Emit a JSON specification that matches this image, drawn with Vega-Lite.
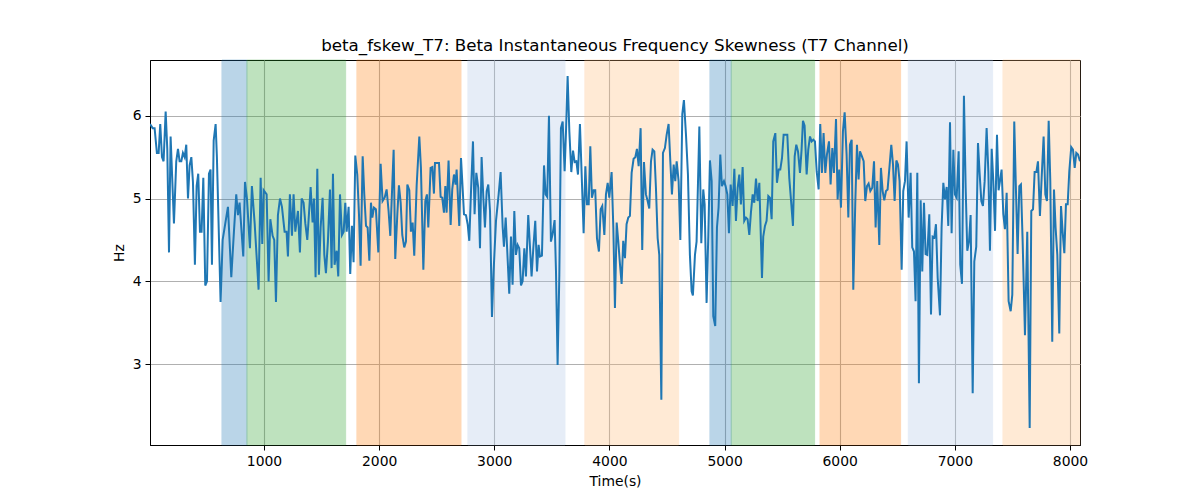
{
  "$schema": "https://vega.github.io/schema/vega-lite/v6.json",
  "width": 930,
  "height": 385,
  "autosize": {"type": "none"},
  "padding": {"left": 150, "top": 60, "right": 120, "bottom": 55},
  "background": "white",
  "config": {
    "font": "DejaVu Sans",
    "view": {"stroke": "black", "strokeWidth": 1},
    "axis": {
      "labelFont": "DejaVu Sans",
      "titleFont": "DejaVu Sans",
      "labelFontSize": 13.9,
      "titleFontSize": 13.9,
      "titleFontWeight": "normal",
      "labelColor": "black",
      "titleColor": "black",
      "tickColor": "black",
      "domainColor": "black",
      "tickSize": 5,
      "labelPadding": 4,
      "grid": true,
      "gridColor": "#b0b0b0",
      "gridWidth": 1.1
    }
  },
  "title": {
    "text": "beta_fskew_T7: Beta Instantaneous Frequency Skewness (T7 Channel)",
    "fontSize": 16.7,
    "fontWeight": "normal",
    "font": "DejaVu Sans",
    "color": "black",
    "frame": "group",
    "anchor": "middle",
    "offset": 5
  },
  "datasets": {
    "spans": [
      {"start": 635, "end": 852, "state": "A"},
      {"start": 852, "end": 1709, "state": "B"},
      {"start": 1807, "end": 2711, "state": "C"},
      {"start": 2771, "end": 3614, "state": "D"},
      {"start": 3787, "end": 4601, "state": "E"},
      {"start": 4873, "end": 5058, "state": "A"},
      {"start": 5058, "end": 5782, "state": "B"},
      {"start": 5829, "end": 6529, "state": "C"},
      {"start": 6596, "end": 7328, "state": "D"},
      {"start": 7418, "end": 8087, "state": "E"}
    ],
    "series": [
      {"t":10,"v":5.9},{"t":33,"v":5.85},{"t":50,"v":5.85},{"t":70,"v":5.55},{"t":85,"v":5.55},{"t":99,"v":5.9},{"t":114,"v":5.5},{"t":128,"v":5.45},{"t":146,"v":6.05},{"t":160,"v":5.6},{"t":175,"v":4.35},{"t":189,"v":5.75},{"t":218,"v":4.7},{"t":238,"v":5.45},{"t":253,"v":5.6},{"t":267,"v":5.45},{"t":282,"v":5.45},{"t":296,"v":5.55},{"t":311,"v":5.5},{"t":325,"v":5.65},{"t":340,"v":5.0},{"t":354,"v":5.4},{"t":369,"v":5.5},{"t":383,"v":5.2},{"t":400,"v":4.2},{"t":415,"v":5.15},{"t":429,"v":5.3},{"t":444,"v":4.6},{"t":458,"v":4.6},{"t":473,"v":5.25},{"t":490,"v":3.95},{"t":505,"v":4.0},{"t":522,"v":5.3},{"t":536,"v":5.35},{"t":548,"v":4.2},{"t":563,"v":5.7},{"t":580,"v":5.9},{"t":591,"v":5.5},{"t":623,"v":3.75},{"t":641,"v":4.5},{"t":664,"v":4.7},{"t":687,"v":4.9},{"t":716,"v":4.05},{"t":739,"v":4.6},{"t":759,"v":5.05},{"t":774,"v":4.8},{"t":788,"v":4.95},{"t":820,"v":4.3},{"t":835,"v":5.2},{"t":852,"v":5.0},{"t":878,"v":4.4},{"t":895,"v":5.15},{"t":919,"v":4.7},{"t":953,"v":3.9},{"t":971,"v":5.25},{"t":985,"v":4.45},{"t":997,"v":5.1},{"t":1023,"v":5.05},{"t":1040,"v":4.0},{"t":1055,"v":4.75},{"t":1075,"v":4.55},{"t":1089,"v":4.5},{"t":1104,"v":3.75},{"t":1121,"v":4.8},{"t":1139,"v":5.0},{"t":1156,"v":4.9},{"t":1179,"v":4.6},{"t":1196,"v":4.6},{"t":1208,"v":4.3},{"t":1225,"v":5.05},{"t":1243,"v":4.55},{"t":1257,"v":5.05},{"t":1272,"v":4.6},{"t":1295,"v":4.85},{"t":1312,"v":4.35},{"t":1327,"v":5.0},{"t":1344,"v":4.95},{"t":1359,"v":4.7},{"t":1376,"v":4.5},
      {"t":1385,"v":4.69},{"t":1405,"v":5.14},{"t":1422,"v":4.71},{"t":1434,"v":5.0},{"t":1448,"v":4.05},{"t":1463,"v":5.36},{"t":1477,"v":4.08},{"t":1492,"v":4.65},{"t":1509,"v":5.01},{"t":1524,"v":4.32},{"t":1538,"v":4.1},{"t":1555,"v":4.48},{"t":1573,"v":5.11},{"t":1587,"v":4.16},{"t":1599,"v":5.3},{"t":1613,"v":4.2},{"t":1631,"v":4.37},{"t":1645,"v":4.06},{"t":1660,"v":5.05},{"t":1677,"v":4.56},{"t":1692,"v":4.6},{"t":1706,"v":4.95},{"t":1718,"v":4.6},{"t":1735,"v":4.9},{"t":1749,"v":4.09},{"t":1764,"v":4.67},{"t":1778,"v":4.23},{"t":1793,"v":5.52},{"t":1810,"v":5.29},{"t":1825,"v":4.81},{"t":1839,"v":4.19},{"t":1857,"v":5.51},{"t":1871,"v":5.05},{"t":1886,"v":4.67},{"t":1900,"v":4.65},{"t":1915,"v":4.25},{"t":1929,"v":4.95},{"t":1941,"v":4.77},{"t":1955,"v":4.89},{"t":1972,"v":4.87},{"t":1993,"v":4.35},{"t":2013,"v":5.42},{"t":2030,"v":4.97},{"t":2048,"v":5.01},{"t":2065,"v":5.11},{"t":2082,"v":4.85},{"t":2097,"v":4.55},{"t":2111,"v":5.05},{"t":2126,"v":5.59},{"t":2140,"v":4.27},{"t":2158,"v":4.81},{"t":2172,"v":5.16},{"t":2187,"v":4.95},{"t":2201,"v":4.56},{"t":2218,"v":4.41},{"t":2233,"v":4.48},{"t":2245,"v":5.17},{"t":2262,"v":5.1},{"t":2276,"v":4.6},{"t":2291,"v":4.71},{"t":2305,"v":4.31},{"t":2326,"v":5.16},{"t":2349,"v":5.75},{"t":2363,"v":5.37},{"t":2384,"v":4.14},{"t":2401,"v":4.97},{"t":2415,"v":5.05},{"t":2427,"v":4.65},{"t":2447,"v":5.37},{"t":2462,"v":5.38},{"t":2476,"v":5.06},{"t":2485,"v":5.43},{"t":2505,"v":5.43},{"t":2520,"v":5.43},{"t":2534,"v":5.02},{"t":2548,"v":5.01},{"t":2563,"v":4.83},{"t":2575,"v":5.15},{"t":2586,"v":4.83},{"t":2603,"v":5.46},{"t":2621,"v":4.68},{"t":2635,"v":5.11},{"t":2650,"v":5.29},{"t":2664,"v":5.17},{"t":2673,"v":5.35},{"t":2696,"v":4.67},
      {"t":2711,"v":5.49},{"t":2725,"v":5.13},{"t":2737,"v":4.81},{"t":2754,"v":4.8},{"t":2769,"v":4.69},{"t":2783,"v":4.49},{"t":2797,"v":5.05},{"t":2815,"v":5.69},{"t":2829,"v":4.81},{"t":2844,"v":5.31},{"t":2861,"v":5.13},{"t":2876,"v":4.4},{"t":2890,"v":5.5},{"t":2905,"v":5.01},{"t":2919,"v":4.65},{"t":2934,"v":5.09},{"t":2948,"v":5.17},{"t":2963,"v":4.85},{"t":2980,"v":3.57},{"t":2994,"v":4.12},{"t":3015,"v":4.73},{"t":3038,"v":5.05},{"t":3055,"v":5.32},{"t":3073,"v":4.65},{"t":3084,"v":4.42},{"t":3099,"v":4.77},{"t":3113,"v":4.36},{"t":3130,"v":3.85},{"t":3145,"v":4.54},{"t":3159,"v":3.96},{"t":3174,"v":4.85},{"t":3188,"v":4.32},{"t":3203,"v":4.44},{"t":3217,"v":4.4},{"t":3232,"v":3.95},{"t":3246,"v":4.0},{"t":3261,"v":4.4},{"t":3275,"v":4.06},{"t":3295,"v":4.8},{"t":3310,"v":4.42},{"t":3324,"v":4.06},{"t":3339,"v":4.4},{"t":3356,"v":4.73},{"t":3371,"v":4.12},{"t":3385,"v":4.44},{"t":3397,"v":4.3},{"t":3414,"v":4.31},{"t":3432,"v":5.4},{"t":3446,"v":5.05},{"t":3460,"v":5.02},{"t":3475,"v":6.0},{"t":3492,"v":4.48},{"t":3507,"v":4.57},{"t":3524,"v":4.74},{"t":3536,"v":4.12},{"t":3550,"v":2.99},{"t":3565,"v":4.08},{"t":3579,"v":5.85},{"t":3594,"v":5.93},{"t":3611,"v":5.33},{"t":3623,"v":5.81},{"t":3637,"v":6.48},{"t":3652,"v":5.81},{"t":3669,"v":5.32},{"t":3684,"v":5.58},{"t":3698,"v":5.44},{"t":3713,"v":5.45},{"t":3727,"v":5.29},{"t":3744,"v":5.9},{"t":3762,"v":5.17},{"t":3776,"v":4.58},{"t":3791,"v":5.39},{"t":3805,"v":4.93},{"t":3820,"v":4.93},{"t":3834,"v":5.63},{"t":3848,"v":5.01},{"t":3863,"v":5.1},{"t":3877,"v":5.1},{"t":3892,"v":4.52},{"t":3909,"v":4.36},{"t":3924,"v":4.87},{"t":3938,"v":4.91},{"t":3956,"v":4.56},{"t":3970,"v":5.05},{"t":3985,"v":5.19},{"t":3999,"v":5.01},
      {"t":4019,"v":5.32},{"t":4034,"v":4.65},{"t":4048,"v":3.68},{"t":4063,"v":4.71},{"t":4077,"v":4.48},{"t":4092,"v":4.2},{"t":4106,"v":3.97},{"t":4120,"v":4.49},{"t":4135,"v":4.28},{"t":4149,"v":4.69},{"t":4164,"v":4.77},{"t":4178,"v":4.79},{"t":4193,"v":5.31},{"t":4210,"v":5.48},{"t":4225,"v":5.5},{"t":4239,"v":5.6},{"t":4254,"v":5.39},{"t":4271,"v":5.85},{"t":4285,"v":4.38},{"t":4300,"v":5.44},{"t":4317,"v":5.05},{"t":4332,"v":4.97},{"t":4346,"v":4.88},{"t":4361,"v":5.45},{"t":4375,"v":5.59},{"t":4390,"v":5.57},{"t":4404,"v":5.13},{"t":4419,"v":4.52},{"t":4433,"v":4.32},{"t":4451,"v":2.57},{"t":4465,"v":5.55},{"t":4482,"v":5.61},{"t":4497,"v":5.77},{"t":4514,"v":5.9},{"t":4529,"v":5.45},{"t":4543,"v":5.05},{"t":4558,"v":5.41},{"t":4572,"v":5.21},{"t":4584,"v":5.45},{"t":4601,"v":5.21},{"t":4616,"v":4.5},{"t":4633,"v":6.02},{"t":4647,"v":6.19},{"t":4665,"v":5.77},{"t":4682,"v":5.29},{"t":4699,"v":4.32},{"t":4714,"v":3.88},{"t":4725,"v":3.83},{"t":4743,"v":4.32},{"t":4757,"v":4.48},{"t":4781,"v":5.87},{"t":4798,"v":4.46},{"t":4815,"v":5.11},{"t":4827,"v":4.93},{"t":4844,"v":3.74},{"t":4859,"v":4.56},{"t":4873,"v":5.46},{"t":4888,"v":5.21},{"t":4902,"v":3.58},{"t":4919,"v":3.46},{"t":4934,"v":4.65},{"t":4948,"v":4.89},{"t":4963,"v":5.53},{"t":4977,"v":5.15},{"t":4995,"v":5.21},{"t":5009,"v":5.15},{"t":5024,"v":5.05},{"t":5038,"v":4.58},{"t":5053,"v":5.17},{"t":5070,"v":4.91},{"t":5085,"v":5.36},{"t":5099,"v":4.73},{"t":5114,"v":5.13},{"t":5128,"v":5.29},{"t":5142,"v":4.93},{"t":5157,"v":5.38},{"t":5171,"v":4.73},{"t":5186,"v":4.77},{"t":5200,"v":4.75},{"t":5215,"v":4.56},{"t":5229,"v":4.83},{"t":5244,"v":5.05},{"t":5258,"v":4.95},{"t":5273,"v":5.24},{"t":5287,"v":4.97},{"t":5302,"v":5.19},
      {"t":5325,"v":4.04},{"t":5336,"v":4.54},{"t":5351,"v":4.67},{"t":5365,"v":4.73},{"t":5380,"v":5.03},{"t":5394,"v":5.01},{"t":5409,"v":4.75},{"t":5423,"v":5.69},{"t":5441,"v":5.79},{"t":5455,"v":5.19},{"t":5470,"v":5.35},{"t":5484,"v":5.35},{"t":5499,"v":5.49},{"t":5513,"v":5.77},{"t":5530,"v":5.77},{"t":5545,"v":5.77},{"t":5562,"v":5.25},{"t":5580,"v":4.93},{"t":5594,"v":4.67},{"t":5609,"v":5.51},{"t":5623,"v":5.65},{"t":5638,"v":5.57},{"t":5655,"v":5.31},{"t":5669,"v":5.59},{"t":5681,"v":5.94},{"t":5695,"v":5.88},{"t":5713,"v":5.29},{"t":5727,"v":5.59},{"t":5742,"v":5.75},{"t":5756,"v":5.69},{"t":5771,"v":5.71},{"t":5785,"v":5.69},{"t":5800,"v":5.33},{"t":5817,"v":5.11},{"t":5831,"v":5.9},{"t":5846,"v":5.31},{"t":5860,"v":5.79},{"t":5875,"v":5.31},{"t":5889,"v":5.53},{"t":5907,"v":5.69},{"t":5921,"v":5.17},{"t":5936,"v":5.61},{"t":5950,"v":5.31},{"t":5968,"v":5.96},{"t":5982,"v":4.99},{"t":5996,"v":5.35},{"t":6011,"v":4.89},{"t":6028,"v":5.81},{"t":6043,"v":6.04},{"t":6060,"v":5.53},{"t":6075,"v":4.77},{"t":6089,"v":5.65},{"t":6104,"v":5.71},{"t":6118,"v":3.9},{"t":6135,"v":4.93},{"t":6150,"v":5.65},{"t":6164,"v":5.23},{"t":6176,"v":5.57},{"t":6193,"v":5.51},{"t":6208,"v":5.45},{"t":6222,"v":4.97},{"t":6237,"v":5.15},{"t":6251,"v":5.18},{"t":6266,"v":5.09},{"t":6283,"v":5.13},{"t":6298,"v":5.45},{"t":6312,"v":4.65},{"t":6326,"v":5.21},{"t":6344,"v":4.44},{"t":6358,"v":5.37},{"t":6373,"v":5.09},{"t":6387,"v":4.98},{"t":6402,"v":5.09},{"t":6416,"v":5.11},{"t":6434,"v":5.41},{"t":6448,"v":5.65},{"t":6463,"v":5.41},{"t":6477,"v":4.97},{"t":6492,"v":5.46},{"t":6506,"v":5.41},{"t":6520,"v":5.21},{"t":6538,"v":4.14},{"t":6552,"v":5.09},{"t":6567,"v":5.21},{"t":6581,"v":5.69},{"t":6599,"v":4.77},
      {"t":6616,"v":5.31},{"t":6630,"v":4.41},{"t":6645,"v":4.36},{"t":6659,"v":3.76},{"t":6674,"v":5.31},{"t":6688,"v":2.77},{"t":6703,"v":4.98},{"t":6717,"v":4.12},{"t":6732,"v":4.95},{"t":6746,"v":4.33},{"t":6761,"v":4.32},{"t":6778,"v":4.81},{"t":6793,"v":3.6},{"t":6807,"v":4.54},{"t":6822,"v":4.53},{"t":6836,"v":4.69},{"t":6851,"v":4.04},{"t":6871,"v":3.59},{"t":6885,"v":4.65},{"t":6900,"v":5.19},{"t":6914,"v":4.99},{"t":6929,"v":5.14},{"t":6943,"v":4.67},{"t":6958,"v":5.92},{"t":6972,"v":4.58},{"t":6987,"v":5.59},{"t":7001,"v":5.05},{"t":7016,"v":5.01},{"t":7033,"v":5.57},{"t":7047,"v":4.2},{"t":7062,"v":3.97},{"t":7079,"v":6.24},{"t":7094,"v":5.13},{"t":7108,"v":4.37},{"t":7123,"v":4.48},{"t":7137,"v":4.8},{"t":7155,"v":2.65},{"t":7169,"v":4.24},{"t":7186,"v":4.42},{"t":7201,"v":5.67},{"t":7215,"v":5.31},{"t":7230,"v":4.97},{"t":7244,"v":4.91},{"t":7259,"v":5.21},{"t":7276,"v":5.85},{"t":7291,"v":5.33},{"t":7305,"v":4.37},{"t":7320,"v":5.6},{"t":7334,"v":5.21},{"t":7349,"v":4.61},{"t":7366,"v":5.77},{"t":7380,"v":5.1},{"t":7392,"v":5.21},{"t":7406,"v":5.35},{"t":7421,"v":4.81},{"t":7435,"v":4.63},{"t":7450,"v":5.07},{"t":7467,"v":3.76},{"t":7485,"v":3.64},{"t":7499,"v":3.84},{"t":7516,"v":5.93},{"t":7531,"v":5.09},{"t":7545,"v":4.33},{"t":7560,"v":5.15},{"t":7574,"v":5.17},{"t":7589,"v":4.48},{"t":7609,"v":3.35},{"t":7629,"v":4.6},{"t":7650,"v":2.23},{"t":7664,"v":4.85},{"t":7679,"v":4.87},{"t":7693,"v":5.32},{"t":7708,"v":5.32},{"t":7722,"v":5.45},{"t":7739,"v":4.79},{"t":7754,"v":5.25},{"t":7771,"v":5.75},{"t":7786,"v":5.05},{"t":7800,"v":4.97},{"t":7815,"v":5.94},{"t":7829,"v":5.21},{"t":7846,"v":3.27},{"t":7861,"v":5.11},{"t":7875,"v":4.65},{"t":7890,"v":4.32},{"t":7907,"v":3.37},{"t":7922,"v":4.91},{"t":7936,"v":4.6},{"t":7951,"v":4.34},{"t":7965,"v":4.93},{"t":7980,"v":4.93},{"t":7994,"v":5.33},{"t":8011,"v":5.62},{"t":8026,"v":5.59},{"t":8041,"v":5.37},{"t":8055,"v":5.55},{"t":8070,"v":5.53},{"t":8087,"v":5.45}
    ]
  },
  "layer": [
    {
      "data": {"name": "spans"},
      "mark": {"type": "rect", "opacity": 0.3, "strokeWidth": 1},
      "encoding": {
        "x": {
          "field": "start",
          "type": "quantitative",
          "scale": {"domain": [10, 8087], "nice": false, "zero": false},
          "axis": {"values": [1000, 2000, 3000, 4000, 5000, 6000, 7000, 8000], "format": "d", "title": "Time(s)", "titlePadding": 7}
        },
        "x2": {"field": "end"},
        "color": {
          "field": "state",
          "type": "nominal",
          "scale": {"domain": ["A", "B", "C", "D", "E"], "range": ["#1f77b4", "#2ca02c", "#ff7f0e", "#aec7e8", "#ffbb78"]},
          "legend": null
        },
        "stroke": {
          "field": "state",
          "type": "nominal",
          "scale": {"domain": ["A", "B", "C", "D", "E"], "range": ["#1f77b4", "#2ca02c", "#ff7f0e", "#aec7e8", "#ffbb78"]},
          "legend": null
        }
      }
    },
    {
      "data": {"name": "series"},
      "mark": {"type": "line", "color": "#1f77b4", "strokeWidth": 2, "clip": true},
      "encoding": {
        "x": {"field": "t", "type": "quantitative"},
        "y": {
          "field": "v",
          "type": "quantitative",
          "scale": {"domain": [2.024, 6.673], "nice": false, "zero": false},
          "axis": {"values": [3, 4, 5, 6], "title": "Hz", "titlePadding": 6}
        }
      }
    }
  ]
}
